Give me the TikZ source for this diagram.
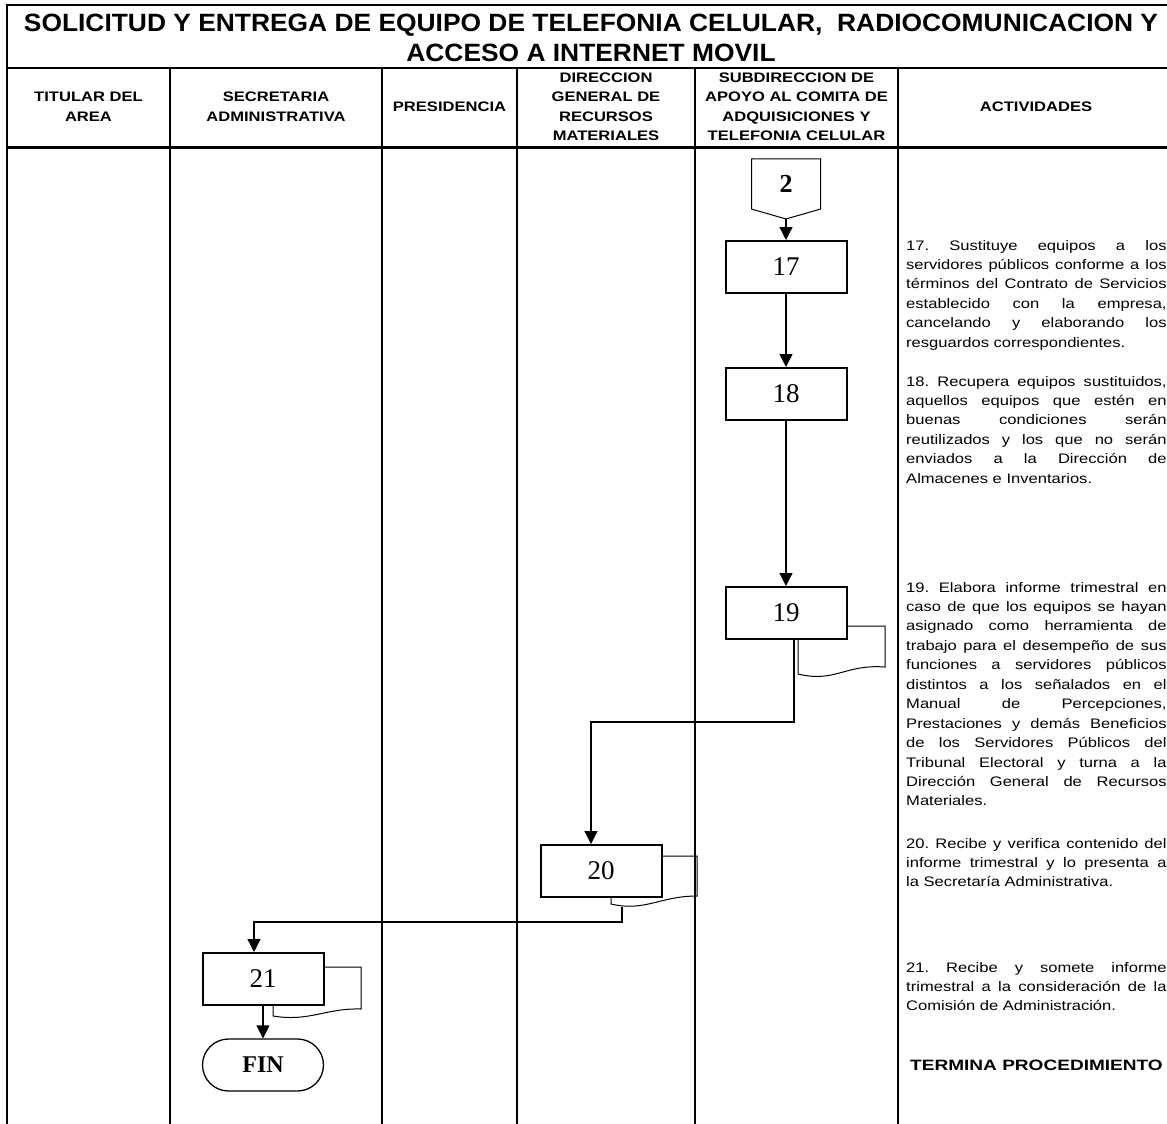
\documentclass[tikz,border=0pt]{standalone}
\usepackage{fontspec}
\setmainfont{Liberation Serif}
\newfontfamily\arial{Liberation Sans}
\usepackage{graphicx}
\usepackage{tikz}
\usetikzlibrary{arrows.meta,calc,shapes.symbols,shapes.misc}
\frenchspacing

\newcommand{\wide}[1]{\scalebox{1.2}[1]{#1}}
\newcommand{\hdr}[1]{\wide{\begin{tabular}{@{}c@{}}#1\end{tabular}}}
\newcommand{\actpar}[1]{\wide{\parbox[t]{217pt}{\tolerance=10000 \hyphenpenalty=10000 \strut #1}}}

\tikzset{
  lane/.style={line width=1.5pt},
  rule/.style={line width=2.5pt},
  box/.style={draw,line width=2pt,minimum width=121pt,minimum height=52pt,inner sep=0pt,font=\fontsize{27}{30}\selectfont},
  offpage/.style={draw,line width=1pt,shape=signal,signal to=south,signal pointer angle=148,minimum width=69pt,minimum height=52pt,inner sep=0pt,font=\bfseries\fontsize{26}{28}\selectfont},
  endbox/.style={draw,line width=1.3pt,rounded rectangle,minimum width=121pt,minimum height=52pt,inner sep=0pt,font=\bfseries\fontsize{24}{26}\selectfont},
  flow/.style={line width=1.3pt,-{Triangle[length=13pt,width=13pt]}},
  tab/.style={line width=1pt},
  head/.style={inner sep=0pt,font=\arial\bfseries\fontsize{13.8}{19.5}\selectfont},
  act/.style={anchor=base west,inner sep=0pt,font=\arial\fontsize{13.8}{19.45}\selectfont}
}

\begin{document}
\begin{tikzpicture}[x=1pt,y=-1pt]
  \useasboundingbox (0,0) rectangle (1167,1124);
  % table
  \draw[rule] (7,5) -- (1167,5);
  \draw[lane] (7,68) -- (1167,68);
  \draw[line width=3pt] (7,147) -- (1167,147);
  \draw[lane] (7,4) -- (7,1124);
  \foreach \x in {170,382,517,695,898}
    \draw[lane] (\x,68) -- (\x,1124);

  % title and lanes
  \node[anchor=base,inner sep=0pt,font=\arial\bfseries\fontsize{25}{30}\selectfont] (title1) at (591,32)
    {\scalebox{1.055}[1]{SOLICITUD Y ENTREGA DE EQUIPO DE TELEFONIA CELULAR,~ RADIOCOMUNICACION Y}};
  \node[anchor=base,inner sep=0pt,font=\arial\bfseries\fontsize{25}{30}\selectfont] (title2) at (591,62)
    {\scalebox{1.055}[1]{ACCESO A INTERNET MOVIL}};
  \node[head] (titular) at (88.5,107.5) {\hdr{TITULAR DEL\\AREA}};
  \node[head] (secretaria) at (276,107.5) {\hdr{SECRETARIA\\ADMINISTRATIVA}};
  \node[head] (presidencia) at (449.5,107.5) {\hdr{PRESIDENCIA}};
  \node[head] (direccion) at (606,107.5) {\hdr{DIRECCION\\GENERAL DE\\RECURSOS\\MATERIALES}};
  \node[head] (subdireccion) at (796.5,107.5) {\hdr{SUBDIRECCION DE\\APOYO AL COMITA DE\\ADQUISICIONES Y\\TELEFONIA CELULAR}};
  \node[head] (actividades) at (1036,107.5) {\hdr{ACTIVIDADES}};

  % flow
  \node[offpage] (c2) at (786,184) {2};
  \node[box] (n17) at (786,267) {17};
  \node[box] (n18) at (786,394) {18};
  \node[box] (n19) at (786,613) {19};
  \node[box] (n20) at (601,871) {20};
  \node[box] (n21) at (263,979) {21};
  \node[endbox] (fin) at (263,1065) {FIN};

  % document tabs
  \draw[tab] (847,626) -- (885,626) -- (885,667) .. controls (845,664) and (835,683) .. (798,674) -- (798,639);
  \draw[tab] (662,856) -- (697,856) -- (697,896) .. controls (660,896) and (645,912) .. (611,904) -- (611,897);
  \draw[tab] (324,967) -- (361,967) -- (361,1009) .. controls (325,1008) and (310,1022) .. (273,1016) -- (273,1005);
  \coordinate (t20) at (622,907);

  \draw[flow] (c2.south) -- (n17.north);
  \draw[flow] (n17.south) -- (n18.north);
  \draw[flow] (n18.south) -- (n19.north);
  \draw[flow] ([xshift=8pt]n19.south) -- ++(0,82) -| ([xshift=-10pt]n20.north);
  \draw[flow] (t20) -- ++(0,15) -| ([xshift=-9pt]n21.north);
  \draw[flow] (n21.south) -- (fin.north);

  % actividades
  \node[act] (a17) at (906,250) {\actpar{17. Sustituye equipos a los\linebreak
    servidores públicos conforme a los\linebreak términos del Contrato de Servicios\linebreak
    establecido con la empresa,\linebreak cancelando y elaborando los\linebreak
    resguardos correspondientes.}};
  \node[act] (a18) at (906,386) {\actpar{18. Recupera equipos sustituidos,\linebreak
    aquellos equipos que estén en\linebreak buenas condiciones serán\linebreak
    reutilizados y los que no serán\linebreak enviados a la Dirección de\linebreak
    Almacenes e Inventarios.}};
  \node[act] (a19) at (906,592) {\actpar{19. Elabora informe trimestral en\linebreak
    caso de que los equipos se hayan\linebreak asignado como herramienta de\linebreak
    trabajo para el desempeño de sus\linebreak funciones a servidores públicos\linebreak
    distintos a los señalados en el\linebreak Manual de Percepciones,\linebreak
    Prestaciones y demás Beneficios\linebreak de los Servidores Públicos del\linebreak
    Tribunal Electoral y turna a la\linebreak Dirección General de Recursos\linebreak
    Materiales.}};
  \node[act] (a20) at (906,848) {\actpar{20. Recibe y verifica contenido del\linebreak
    informe trimestral y lo presenta a\linebreak la Secretaría Administrativa.}};
  \node[act] (a21) at (906,972) {\actpar{21. Recibe y somete informe\linebreak
    trimestral a la consideración de la\linebreak Comisión de Administración.}};
  \node[anchor=base west,inner sep=0pt,font=\arial\bfseries\fontsize{15}{18}\selectfont] (termina) at (910,1070)
    {\scalebox{1.27}[1]{TERMINA PROCEDIMIENTO}};
\end{tikzpicture}
\end{document}
